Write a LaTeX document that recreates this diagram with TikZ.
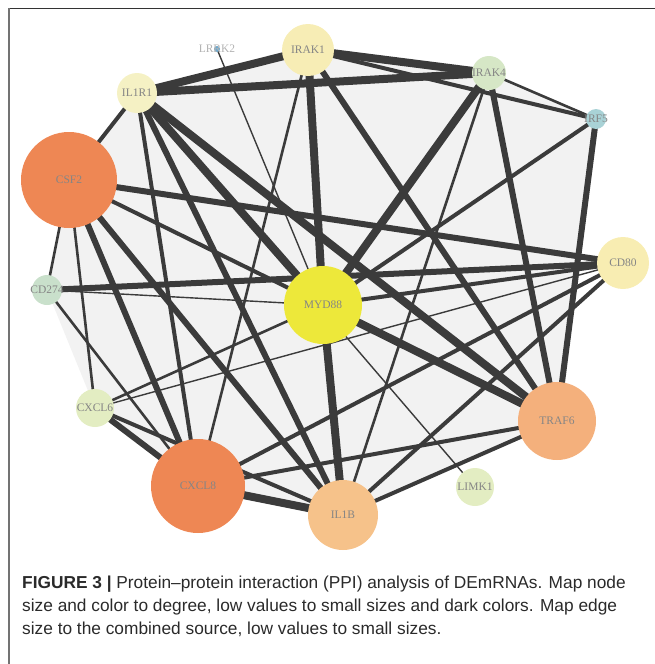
\documentclass[tikz,border=0pt]{standalone}
\usepackage{fontspec}
\setmainfont{Liberation Serif}
\newfontfamily\capfont{Liberation Sans}
\pgfdeclarelayer{hull}
\pgfdeclarelayer{edges}
\pgfsetlayers{hull,edges,main}
\definecolor{edgec}{HTML}{3B3B3B}
\definecolor{hullc}{HTML}{F2F2F2}
\definecolor{labc}{HTML}{858585}
\definecolor{cYel}{HTML}{F7EDB5}
\definecolor{cIL1R1}{HTML}{F5F1C4}
\definecolor{cCD80}{HTML}{F8EDB2}
\definecolor{cIRAK4}{HTML}{D6E7C6}
\definecolor{cIRF5}{HTML}{A9D2D6}
\definecolor{cLRRK2}{HTML}{6EA8CC}
\definecolor{cOrange}{HTML}{EE8754}
\definecolor{cCD274}{HTML}{C9E0CB}
\definecolor{cMYD88}{HTML}{EDE83A}
\definecolor{cLime}{HTML}{E3EDC2}
\definecolor{cIL1B}{HTML}{F6C28A}
\definecolor{cTRAF6}{HTML}{F4B07C}
\definecolor{capc}{HTML}{2A2A2A}
\tikzset{
  pnode/.style={circle, inner sep=0pt, draw=none},
  lab/.style={text=labc, font=\fontsize{11.5}{12}\selectfont, inner sep=0pt},
  edge/.style={draw=edgec, line cap=butt},
  wA/.style={edge, line width=1.4pt},
  wB/.style={edge, line width=2.6pt},
  wC/.style={edge, line width=4pt},
  wD/.style={edge, line width=6pt},
  wE/.style={edge, line width=8pt},
  capline/.style={anchor=base west, inner sep=0pt, text=capc, font=\capfont\fontsize{17.3}{20}\selectfont},
}
\begin{document}
\begin{tikzpicture}[x=1pt,y=-1pt]
\useasboundingbox (0,0) rectangle (655,664);
% frame
\draw[line width=1.6pt, draw=black!80] (8,8.5) -- (655,8.5);
\draw[line width=2pt, draw=black!55] (8.5,8) -- (8.5,664);

% nodes
\node[pnode, minimum size=6pt, fill=cLRRK2, label={[lab, text=black!30]center:LRRK2}] (LRRK2) at (217,49) {};
\node[pnode, minimum size=52pt, fill=cYel, label={[lab]center:IRAK1}] (IRAK1) at (308,50) {};
\node[pnode, minimum size=34pt, fill=cIRAK4, label={[lab]center:IRAK4}] (IRAK4) at (489,73) {};
\node[pnode, minimum size=20pt, fill=cIRF5, label={[lab]center:IRF5}] (IRF5) at (596,119) {};
\node[pnode, minimum size=40pt, fill=cIL1R1, label={[lab]center:IL1R1}] (IL1R1) at (137,93) {};
\node[pnode, minimum size=96pt, fill=cOrange, label={[lab]center:CSF2}] (CSF2) at (69,180) {};
\node[pnode, minimum size=30pt, fill=cCD274, label={[lab]center:CD274}] (CD274) at (47,290) {};
\node[pnode, minimum size=78pt, fill=cMYD88, label={[lab]center:MYD88}] (MYD88) at (323,305) {};
\node[pnode, minimum size=52pt, fill=cCD80, label={[lab]center:CD80}] (CD80) at (623,263) {};
\node[pnode, minimum size=38pt, fill=cLime, label={[lab]center:CXCL6}] (CXCL6) at (95,408) {};
\node[pnode, minimum size=94pt, fill=cOrange, label={[lab]center:CXCL8}] (CXCL8) at (198,486) {};
\node[pnode, minimum size=70pt, fill=cIL1B, label={[lab]center:IL1B}] (IL1B) at (343,515) {};
\node[pnode, minimum size=38pt, fill=cLime, label={[lab]center:LIMK1}] (LIMK1) at (475,487) {};
\node[pnode, minimum size=78pt, fill=cTRAF6, label={[lab]center:TRAF6}] (TRAF6) at (557,421) {};

% hull
\begin{pgfonlayer}{hull}
\fill[hullc] (IL1R1.center) -- (IRAK1.center) -- (IRAK4.center) -- (IRF5.center) -- (TRAF6.center) -- (IL1B.center) -- (CXCL8.center) -- (CXCL6.center) -- (CD274.center) -- (CSF2.center) -- cycle;
\end{pgfonlayer}

% edges
\begin{pgfonlayer}{edges}
\foreach \a/\b/\w in {
 IL1R1/IRAK1/wE, IL1R1/IRAK4/wE, IRAK1/IRAK4/wE, IRAK1/IRF5/wC, IRAK4/IRF5/wB,
 IL1R1/MYD88/wE, IL1R1/TRAF6/wE, IL1R1/IL1B/wD, IL1R1/CXCL8/wC, IL1R1/LIMK1/wA, IL1R1/CSF2/wC,
 IRAK1/MYD88/wE, IRAK1/TRAF6/wD, IRAK1/CXCL8/wB,
 IRAK4/MYD88/wE, IRAK4/TRAF6/wD, IRAK4/IL1B/wB,
 IRF5/TRAF6/wD, IRF5/MYD88/wC, LRRK2/MYD88/wA,
 MYD88/IL1B/wE, MYD88/TRAF6/wE, MYD88/CD80/wC, CSF2/MYD88/wC,
 CSF2/CD80/wD, CD274/CD80/wD, CSF2/CXCL8/wD, CSF2/IL1B/wD, CSF2/CD274/wB, CSF2/CXCL6/wB,
 CD274/MYD88/wA, CD274/CXCL8/wB, CXCL6/CXCL8/wD, CXCL6/IL1B/wC, CXCL6/CD80/wA, CXCL6/MYD88/wB,
 CXCL8/IL1B/wE, CXCL8/TRAF6/wC, CXCL8/CD80/wC, IL1B/TRAF6/wC, IL1B/CD80/wC}
 { \draw[\w] (\a.center) -- (\b.center); }
\end{pgfonlayer}

% caption
\node[capline] (cap1) at (22,588) {\textbf{FIGURE 3 |} Protein–protein interaction (PPI) analysis of DEmRNAs. Map node};
\node[capline] (cap2) at (22,611) {size and color to degree, low values to small sizes and dark colors. Map edge};
\node[capline] (cap3) at (22,634) {size to the combined source, low values to small sizes.};
\end{tikzpicture}
\end{document}
